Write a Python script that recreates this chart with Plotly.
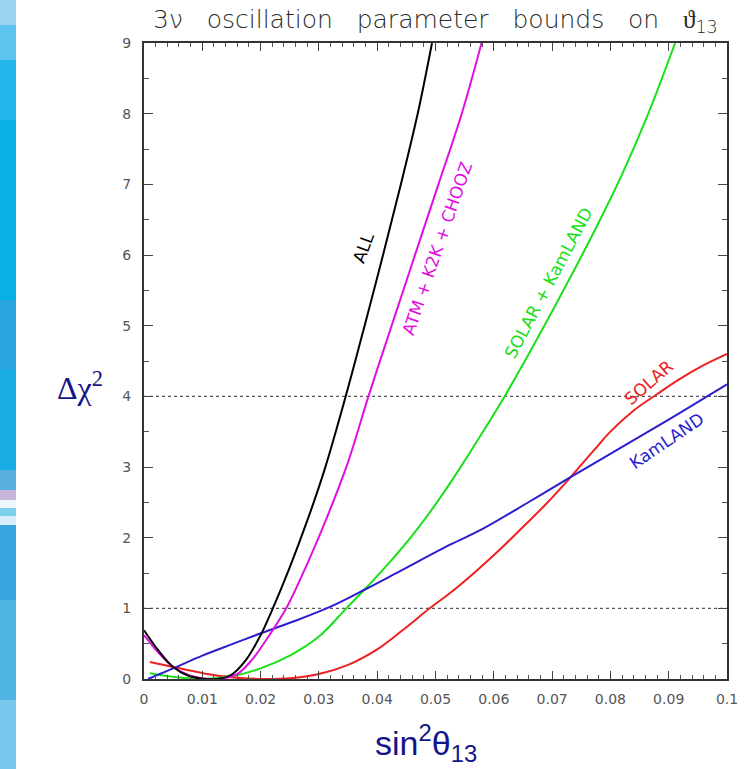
import plotly.graph_objects as go

# Delta chi^2 profiles versus sin^2(theta13)
all_x = [0.0, 0.0025, 0.005, 0.0075, 0.01, 0.0124, 0.015, 0.0175, 0.02, 0.0221,
         0.025, 0.028, 0.031, 0.0346, 0.038, 0.041, 0.044, 0.047, 0.0494]
all_y = [0.69, 0.40, 0.17, 0.05, 0.005, 0.0, 0.06, 0.27, 0.62, 1.0,
         1.58, 2.24, 2.97, 4.0, 5.05, 6.0, 6.98, 8.02, 9.0]

atm_x = [0.0, 0.0025, 0.005, 0.0075, 0.01, 0.013, 0.016, 0.0185, 0.0215,
         0.0244, 0.028, 0.0313, 0.035, 0.0385, 0.042, 0.046, 0.0505, 0.0545, 0.0579]
atm_y = [0.62, 0.37, 0.17, 0.06, 0.01, 0.0, 0.07, 0.27, 0.62,
         1.0, 1.63, 2.27, 3.07, 4.0, 4.88, 5.88, 7.0, 8.0, 9.0]

solkam_x = [0.001, 0.005, 0.01, 0.015, 0.02, 0.025, 0.03, 0.0347, 0.038, 0.042,
            0.046, 0.05, 0.054, 0.058, 0.062, 0.066, 0.07, 0.074, 0.078, 0.082, 0.0865, 0.0911]
solkam_y = [0.08, 0.03, 0.0, 0.04, 0.15, 0.33, 0.6, 1.0, 1.28, 1.64,
            2.03, 2.47, 2.96, 3.48, 4.02, 4.6, 5.2, 5.82, 6.46, 7.14, 8.0, 9.0]

solar_x = [0.001, 0.005, 0.0124, 0.017, 0.021, 0.025, 0.03, 0.035, 0.04, 0.0445,
           0.049, 0.053, 0.057, 0.061, 0.065, 0.069, 0.073, 0.077, 0.08, 0.084,
           0.088, 0.092, 0.096, 0.1]
solar_y = [0.24, 0.17, 0.05, 0.01, 0.0, 0.01, 0.07, 0.2, 0.42, 0.7,
           1.0, 1.25, 1.53, 1.83, 2.15, 2.48, 2.84, 3.22, 3.5, 3.8,
           4.03, 4.25, 4.44, 4.6]

kam_x = [0.0007, 0.005, 0.01, 0.015, 0.0198, 0.0255, 0.0319, 0.038, 0.044, 0.0525,
         0.058, 0.0655, 0.0728, 0.084, 0.092, 0.1]
kam_y = [0.0, 0.15, 0.33, 0.49, 0.64, 0.81, 1.02, 1.27, 1.53, 1.9,
         2.12, 2.48, 2.84, 3.38, 3.77, 4.17]

# curve labels: text, x, y, angle
label_text = ["ALL", "ATM + K2K + CHOOZ", "SOLAR + KamLAND", "SOLAR", "KamLAND"]
label_x = [0.0376, 0.0503, 0.0694, 0.0867, 0.0896]
label_y = [6.1, 6.1, 5.6, 4.2, 3.37]
label_angle = [-70, -71, -62, -41, -34]

# horizontal reference levels
ref_levels = [1, 4]

NAVY = "#14148a"

series = [
    (solar_x, solar_y, "#ee2020"),
    (solkam_x, solkam_y, "#19e019"),
    (kam_x, kam_y, "#2a1ed2"),
    (atm_x, atm_y, "#e010e0"),
    (all_x, all_y, "#000000"),
]
label_colors = ["#000000", "#e010e0", "#19e019", "#ee2020", "#2a1ed2"]

fig = go.Figure()
for xs, ys, col in series:
    fig.add_trace(go.Scatter(
        x=xs, y=ys, mode="lines",
        line=dict(color=col, width=2, shape="spline", smoothing=1.0),
        showlegend=False, hoverinfo="skip",
    ))

shapes = []
for lv in ref_levels:
    shapes.append(dict(type="line", xref="paper", x0=0, x1=1, yref="y", y0=lv, y1=lv,
                       line=dict(color="#555555", width=1.2, dash="dot"), layer="below"))

# decorative slide strip on the far left (pixel offsets from the plot's lower-left corner)
strip_bands = [
    (0, 25, "#9ad4f0"), (25, 60, "#5cc4ee"), (60, 120, "#22b6ea"), (120, 300, "#08b0e6"),
    (300, 370, "#2aa6df"), (370, 470, "#19ade4"), (470, 490, "#5ab0e0"),
    (490, 500, "#c7b7dc"), (500, 508, "#eef6fb"), (508, 516, "#7fd0ec"),
    (516, 525, "#d7eef8"), (525, 600, "#3aa6df"), (600, 700, "#4fb3e4"), (700, 769, "#78c8ee"),
]
PLOT_L, PLOT_B = 144, 679
for top, bot, col in strip_bands:
    shapes.append(dict(type="rect", xref="paper", yref="paper",
                       xsizemode="pixel", ysizemode="pixel", xanchor=0, yanchor=0,
                       x0=-PLOT_L, x1=-PLOT_L + 16, y0=PLOT_B - bot, y1=PLOT_B - top,
                       fillcolor=col, line=dict(width=0), layer="below"))

annotations = []
for t, x, y, a, c in zip(label_text, label_x, label_y, label_angle, label_colors):
    annotations.append(dict(text=t, x=x, y=y, xref="x", yref="y", showarrow=False,
                            textangle=a, font=dict(family="DejaVu Sans", size=17, color=c)))

nb = "\u00a0"
gap = nb * 3
title_txt = ("3ν" + gap + "oscillation" + gap + "parameter" + gap +
             "bounds" + gap + "on" + gap + "ϑ<sub>13</sub>")
annotations.append(dict(text=title_txt, xref="paper", yref="paper", x=0.5, y=1,
                        xanchor="center", yanchor="bottom", yshift=4, showarrow=False,
                        font=dict(family="DejaVu Sans", size=25, color="#2a2a2a", weight=200)))
annotations.append(dict(text="Δχ<sup>2</sup>", xref="paper", yref="paper", x=-0.110, y=0.46,
                        xanchor="center", yanchor="middle", showarrow=False,
                        font=dict(family="Liberation Serif", size=32, color=NAVY)))
annotations.append(dict(text="sin<sup>2</sup>θ<sub>13</sub>", xref="paper", yref="paper",
                        x=0.484, y=0, xanchor="center", yanchor="top", yshift=-38,
                        showarrow=False,
                        font=dict(family="Liberation Sans", size=34, color=NAVY)))

axis_common = dict(
    showline=True, mirror="ticks", linecolor="#333333", linewidth=2,
    ticks="inside", tickcolor="#444444", tickwidth=1,
    showgrid=False, zeroline=False,
    tickfont=dict(family="DejaVu Sans", size=14, color="#555555"),
)

fig.update_xaxes(range=[0, 0.1], tick0=0, dtick=0.01, ticklen=8,
                 minor=dict(dtick=0.002, ticklen=4, ticks="inside", tickcolor="#555555"),
                 ticklabelstandoff=6, **axis_common)
fig.update_yaxes(range=[0, 9], tick0=0, dtick=1, ticklen=9,
                 minor=dict(dtick=0.5, ticklen=5, ticks="inside", tickcolor="#555555"),
                 ticklabelstandoff=8, **axis_common)

fig.update_layout(
    width=749, height=769,
    margin=dict(l=144, r=22, t=43, b=90),
    paper_bgcolor="white", plot_bgcolor="white",
    shapes=shapes, annotations=annotations,
)

fig.write_html("out.html")
